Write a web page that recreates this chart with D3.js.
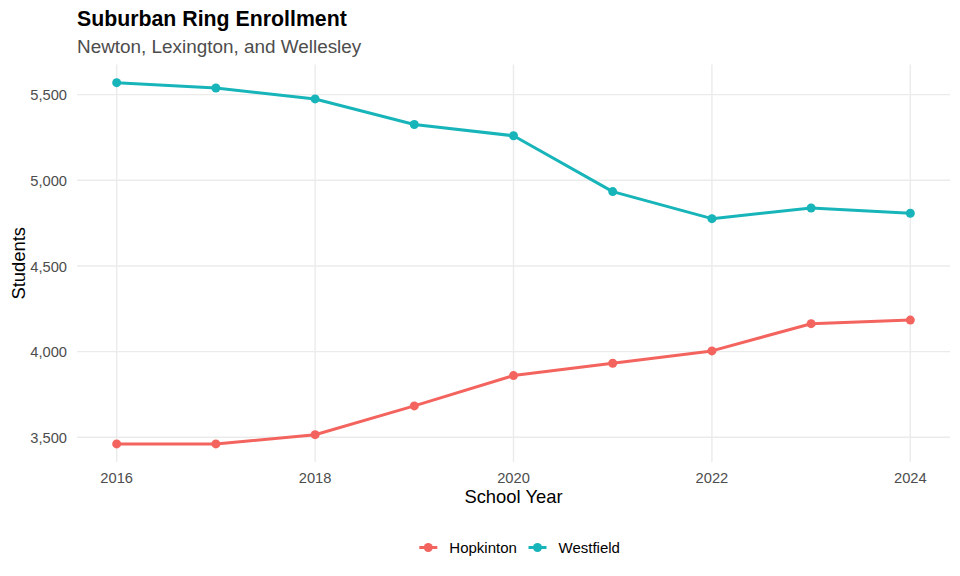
<!DOCTYPE html>
<html><head><meta charset="utf-8">
<script src="https://cdn.jsdelivr.net/npm/d3@7"></script>
<style>body{margin:0;background:#fff;} svg{display:block;font-family:"Liberation Sans",Arial,Helvetica,sans-serif;}</style>
</head><body><svg id="c" width="960" height="576"></svg>
<script>
const years = [2016, 2017, 2018, 2019, 2020, 2021, 2022, 2023, 2024];
const seriesNames = ["Hopkinton", "Westfield"];
const hopkinton = [3461, 3461, 3515, 3683, 3860, 3932, 4004, 4163, 4184];
const westfield = [5570, 5539, 5475, 5326, 5260, 4934, 4776, 4838, 4808];
const colors = ["#F4645F", "#17B5B9"];
const xTicks = [2016, 2018, 2020, 2022, 2024];
const yTicks = [3500, 4000, 4500, 5000, 5500];

const svg = d3.select("#c");
const L = 77, R = 950, T = 64.6, B = 462;
const allVals = hopkinton.concat(westfield);
const ymin = d3.min(allVals), ymax = d3.max(allVals);
const yp = (ymax - ymin) * 0.05;
const x = d3.scaleLinear().domain([2015.6, 2024.4]).range([L, R]);
const y = d3.scaleLinear().domain([ymin - yp, ymax + yp]).range([B, T]);

// grid
svg.append("g").selectAll("line").data(yTicks).join("line")
  .attr("x1", L).attr("x2", R).attr("y1", d => y(d)).attr("y2", d => y(d))
  .attr("stroke", "#EBEBEB").attr("stroke-width", 1.4);
svg.append("g").selectAll("line").data(xTicks).join("line")
  .attr("y1", T).attr("y2", B).attr("x1", d => x(d)).attr("x2", d => x(d))
  .attr("stroke", "#EBEBEB").attr("stroke-width", 1.4);

// tick labels
const fmt = d3.format(",");
svg.append("g").selectAll("text").data(yTicks).join("text")
  .attr("x", L - 10).attr("y", d => y(d) + 5.6)
  .attr("text-anchor", "end").attr("font-size", 14.7).attr("fill", "#4D4D4D")
  .text(d => fmt(d));
svg.append("g").selectAll("text").data(xTicks).join("text")
  .attr("x", d => x(d)).attr("y", 482.7)
  .attr("text-anchor", "middle").attr("font-size", 14.7).attr("fill", "#4D4D4D")
  .text(d => d);

// axis titles
svg.append("text").attr("x", (L + R) / 2).attr("y", 503.3).attr("text-anchor", "middle")
  .attr("font-size", 18.4).attr("fill", "#000").text("School Year");
svg.append("text").attr("transform", `translate(24.5,${(T + B) / 2}) rotate(-90)`)
  .attr("text-anchor", "middle").attr("font-size", 18.4).attr("fill", "#000").text("Students");

// title
svg.append("text").attr("x", 77).attr("y", 26).attr("font-size", 21.3).attr("font-weight", "bold")
  .attr("fill", "#000").text("Suburban Ring Enrollment");
svg.append("text").attr("x", 77).attr("y", 53.3).attr("font-size", 18.9).attr("fill", "#4D4D4D")
  .text("Newton, Lexington, and Wellesley");

// series
const data = [hopkinton, westfield];
const line = d3.line().x((d, i) => x(years[i])).y(d => y(d));
data.forEach((vals, k) => {
  svg.append("path").datum(vals).attr("d", line).attr("fill", "none")
    .attr("stroke", colors[k]).attr("stroke-width", 3).attr("stroke-linejoin", "round");
  svg.append("g").selectAll("circle").data(vals).join("circle")
    .attr("cx", (d, i) => x(years[i])).attr("cy", d => y(d)).attr("r", 4.5)
    .attr("fill", colors[k]);
});

// legend
const legX = [419.3, 528.5];
const legY = 547.5;
seriesNames.forEach((n, k) => {
  const g = svg.append("g");
  g.append("line").attr("x1", legX[k]).attr("x2", legX[k] + 18).attr("y1", legY).attr("y2", legY)
    .attr("stroke", colors[k]).attr("stroke-width", 3);
  g.append("circle").attr("cx", legX[k] + 9).attr("cy", legY).attr("r", 4.5).attr("fill", colors[k]);
  g.append("text").attr("x", legX[k] + 30).attr("y", legY + 5.5)
    .attr("font-size", 15).attr("fill", "#000").text(n);
});
</script></body></html>
